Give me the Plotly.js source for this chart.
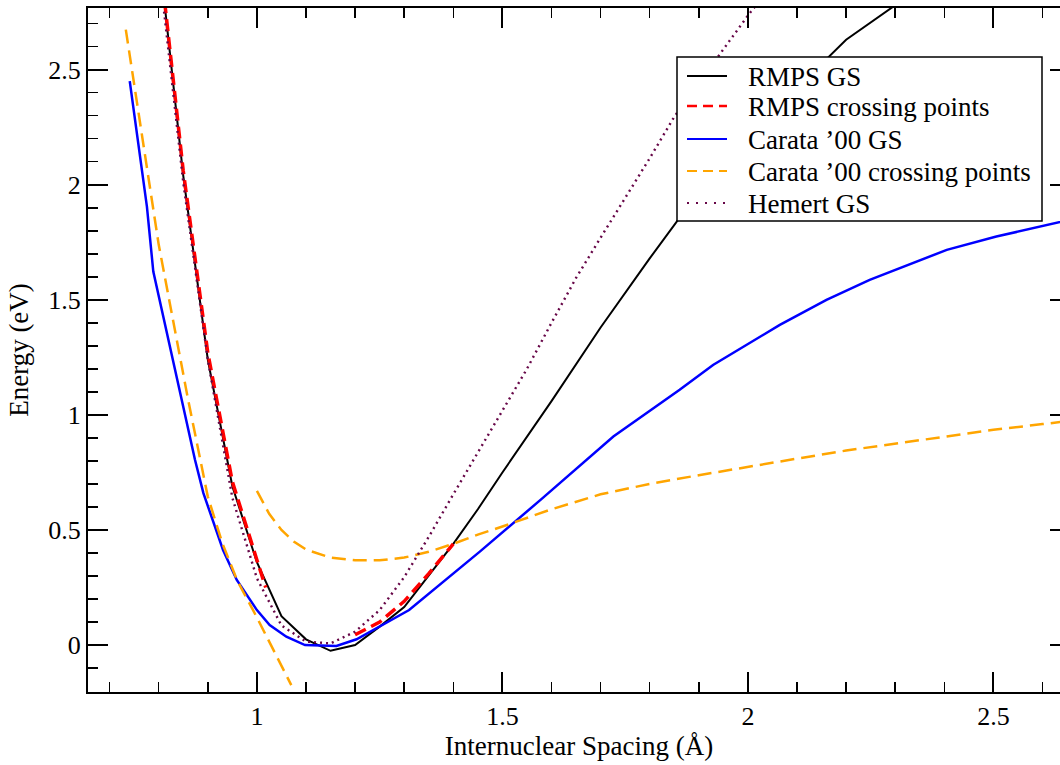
<!DOCTYPE html>
<html>
<head>
<meta charset="utf-8">
<script src="https://cdn.plot.ly/plotly-3.0.1.min.js"></script>
<style>
html, body { margin: 0; padding: 0; overflow: hidden; background: #fff; }
#chart { width: 1070px; height: 765px; }
</style>
</head>
<body>
<div id="chart"></div>
<script>
// ---- data ----
const seriesNames = ["RMPS GS", "RMPS crossing points", "Carata \u201900 GS", "Carata \u201900 crossing points", "Hemert GS"];

const rmpsX = [0.80, 0.85, 0.90, 0.95, 1.00, 1.05, 1.10, 1.15, 1.20, 1.25, 1.30, 1.35, 1.40, 1.45, 1.50, 1.60, 1.70, 1.80, 1.90, 2.00, 2.10, 2.20, 2.30];
const rmpsY = [3.02, 2.04, 1.24, 0.69, 0.36, 0.125, 0.025, -0.025, 0.0, 0.08, 0.165, 0.30, 0.44, 0.59, 0.75, 1.06, 1.38, 1.68, 1.97, 2.20, 2.42, 2.63, 2.78];

const rmpsCrossX = [0.80, 0.85, 0.90, 0.95, 1.00, 1.018, null, 1.20, 1.25, 1.30, 1.35, 1.40];
const rmpsCrossY = [3.03, 2.06, 1.27, 0.71, 0.37, 0.25, null, 0.045, 0.10, 0.19, 0.31, 0.44];

const carataX = [0.741, 0.776, 0.789, 0.874, 0.891, 0.931, 0.959, 1.0, 1.026, 1.06, 1.098, 1.142, 1.162, 1.203, 1.25, 1.31, 1.454, 1.58, 1.726, 1.861, 1.929, 2.065, 2.16, 2.248, 2.405, 2.506, 2.66];
const carataY = [2.45, 1.905, 1.623, 0.804, 0.66, 0.413, 0.283, 0.152, 0.087, 0.036, 0.0, -0.004, -0.004, 0.025, 0.08, 0.152, 0.406, 0.635, 0.906, 1.109, 1.217, 1.391, 1.5, 1.587, 1.717, 1.775, 1.85];

const carataCrossX = [0.733, 0.80, 0.86, 0.90, 0.93, 0.96, 1.0, 1.07, null, 1.0, 1.025, 1.05, 1.075, 1.10, 1.15, 1.20, 1.25, 1.30, 1.35, 1.40, 1.45, 1.50, 1.60, 1.70, 1.80, 1.90, 2.00, 2.10, 2.20, 2.30, 2.40, 2.50, 2.60, 2.66];
const carataCrossY = [2.674, 1.74, 1.065, 0.645, 0.44, 0.28, 0.12, -0.174, null, 0.67, 0.57, 0.50, 0.45, 0.415, 0.38, 0.368, 0.368, 0.38, 0.405, 0.44, 0.48, 0.515, 0.59, 0.655, 0.70, 0.738, 0.775, 0.81, 0.845, 0.875, 0.905, 0.935, 0.96, 0.975];

const hemertX = [0.80, 0.85, 0.90, 0.95, 1.00, 1.05, 1.10, 1.15, 1.20, 1.25, 1.30, 1.35, 1.40, 1.45, 1.50, 1.55, 1.60, 1.65, 1.70, 1.80, 1.85, 1.90, 1.95, 2.00, 2.05];
const hemertY = [2.96, 2.01, 1.24, 0.64, 0.29, 0.085, 0.015, 0.007, 0.058, 0.152, 0.295, 0.47, 0.655, 0.835, 1.015, 1.20, 1.40, 1.595, 1.77, 2.115, 2.295, 2.44, 2.59, 2.735, 2.87];

// ---- styles ----
const FONT = "Liberation Serif, Times New Roman, serif";
const styles = [
  {color: "#000000", width: 2, dash: "solid"},
  {color: "#ff0000", width: 3.5, dash: "12px,6px"},
  {color: "#0000ff", width: 2.5, dash: "solid"},
  {color: "#ffa500", width: 2.5, dash: "14px,7px"},
  {color: "#670748", width: 2.4, dash: "2px,4px"}
];
const xs = [rmpsX, rmpsCrossX, carataX, carataCrossX, hemertX];
const ys = [rmpsY, rmpsCrossY, carataY, carataCrossY, hemertY];

const traces = xs.map((x, i) => ({
  type: "scatter", mode: "lines", name: seriesNames[i],
  x: x, y: ys[i], connectgaps: false, showlegend: false,
  line: {color: styles[i].color, width: styles[i].width, dash: styles[i].dash},
  cliponaxis: true, hoverinfo: "skip"
}));

// plot-area geometry (pixels) for legend placement
const ML = 88, MT = 8, MB = 73, W = 1070, H = 765;
const PW = W - ML, PH = H - MT - MB;
const px = p => (p - ML) / PW;
const py = p => (H - MB - p) / PH;

const shapes = [{
  type: "rect", xref: "paper", yref: "paper", layer: "above",
  x0: px(677), x1: px(1042), y0: py(57), y1: py(221),
  line: {color: "#000", width: 1.5}, fillcolor: "#fff"
}];
const annotations = [];
const rowY = [76, 106, 139, 171, 203];
const legendDash = ["solid", "10px,6px", "solid", "10px,6px", "2px,7px"];
rowY.forEach((r, i) => {
  shapes.push({
    type: "line", xref: "paper", yref: "paper", layer: "above",
    x0: px(687), x1: px(727), y0: py(r), y1: py(r),
    line: {color: styles[i].color, width: i === 1 ? 2.5 : 2, dash: legendDash[i]}
  });
  annotations.push({
    xref: "paper", yref: "paper", x: px(746), y: py(r + 1),
    xanchor: "left", yanchor: "middle", showarrow: false,
    text: seriesNames[i], font: {family: FONT, size: 27, color: "#000"}
  });
});

const axisCommon = {
  showgrid: false, zeroline: false, showline: true, linecolor: "#000", linewidth: 2,
  mirror: "allticks", ticks: "inside", ticklen: 20, tickwidth: 2, tickcolor: "#000",
  tickfont: {family: FONT, size: 26, color: "#000"},
  minor: {ticks: "inside", ticklen: 10, tickwidth: 1.5, tickcolor: "#000", dtick: 0.1, tick0: 0, showgrid: false}
};

const layout = {
  width: W, height: H,
  margin: {l: ML, r: 0, t: MT, b: MB, pad: 0},
  paper_bgcolor: "#fff", plot_bgcolor: "#fff",
  showlegend: false,
  font: {family: FONT, color: "#000"},
  xaxis: Object.assign({}, axisCommon, {
    range: [0.656, 2.656], dtick: 0.5, tick0: 0,
    title: {text: "Internuclear Spacing (\u00c5)", font: {family: FONT, size: 27, color: "#000"}, standoff: 6}
  }),
  yaxis: Object.assign({}, axisCommon, {
    range: [-0.204, 2.768], dtick: 0.5, tick0: 0,
    title: {text: "Energy (eV)", font: {family: FONT, size: 27, color: "#000"}, standoff: 12}
  }),
  shapes: shapes,
  annotations: annotations
};

Plotly.newPlot("chart", traces, layout, {staticPlot: true, displayModeBar: false});
</script>
</body>
</html>
